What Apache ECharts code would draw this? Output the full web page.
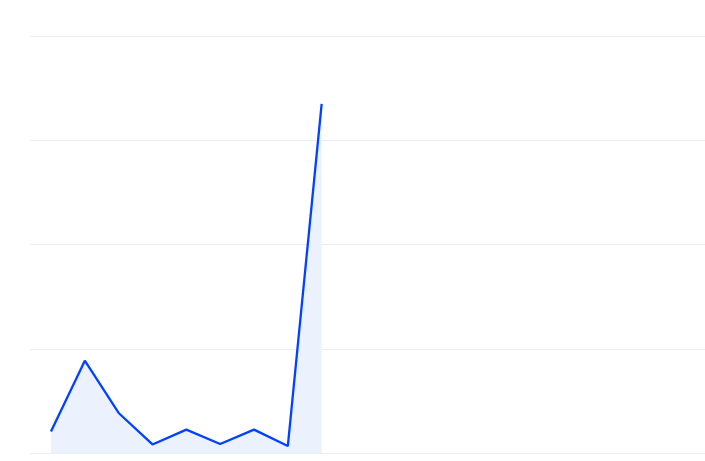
<!DOCTYPE html>
<html><head><meta charset="utf-8">
<script src="https://cdn.jsdelivr.net/npm/echarts@6/dist/echarts.min.js"></script>
<style>html,body{margin:0;padding:0;background:#fff}#c{width:705px;height:461px}</style>
</head><body><div id="c"></div>
<script>
var xPositions = [1, 2, 3, 4, 5, 6, 7, 8, 9];
var values = [20.7, 88.5, 38.4, 8.2, 22.4, 8.6, 22.4, 6.7, 335];
var yTicks = [0, 100, 200, 300, 400];

var chart = echarts.init(document.getElementById('c'));
chart.setOption({
  animation: false,
  grid: { left: 30, right: 0, top: 36, bottom: 8 },
  xAxis: {
    type: 'value', min: 0.38, max: 20.33,
    axisLine: { show: false }, axisTick: { show: false },
    axisLabel: { show: false }, splitLine: { show: false }
  },
  yAxis: {
    type: 'value', min: yTicks[0], max: yTicks[yTicks.length - 1], interval: 100,
    axisLine: { show: false }, axisTick: { show: false }, axisLabel: { show: false },
    splitLine: { lineStyle: { color: '#eeeef1', width: 1 } }
  },
  series: [{
    type: 'line',
    data: xPositions.map(function (x, i) { return [x, values[i]]; }),
    symbol: 'none',
    lineStyle: { color: '#0042ff', width: 2.3 },
    itemStyle: { color: '#0042ff' },
    areaStyle: { color: '#ebf1fd', opacity: 1 }
  }]
});
</script></body></html>
